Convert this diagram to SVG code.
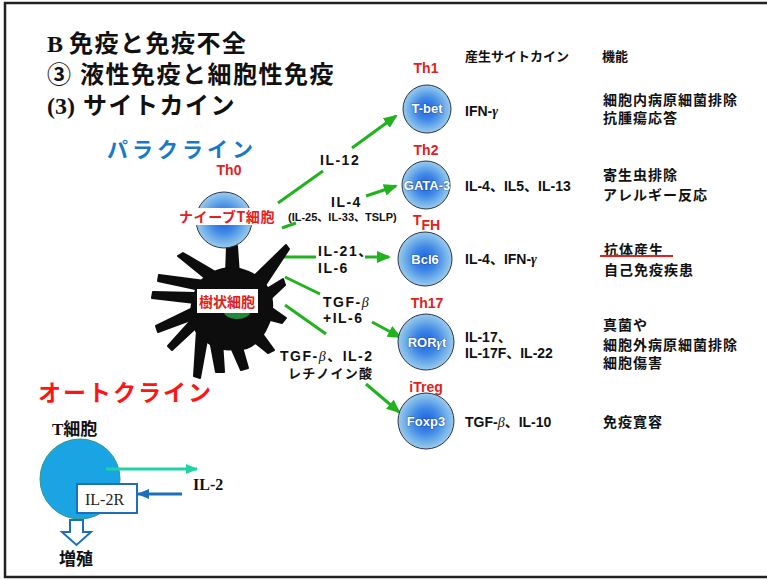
<svg xmlns="http://www.w3.org/2000/svg" width="767" height="580" viewBox="0 0 767 580">
  <defs>
    <style>
      .sans { font-family: "Liberation Sans", "Noto Sans CJK JP", sans-serif; font-weight: bold; }
      .jp { font-family: "Noto Sans CJK JP", "Liberation Sans", sans-serif; font-weight: bold; }
      .serif { font-family: "Liberation Serif", "Noto Sans CJK JP", serif; font-weight: bold; }
      .title { font-size: 24px; fill: #111; }
      .lbl { font-size: 14px; fill: #111; letter-spacing: 1.5px; }
      .cyt { font-size: 14px; fill: #111; }
      .fn { font-size: 14px; fill: #111; letter-spacing: 1px; }
      .th { font-size: 14px; fill: #e3201c; text-anchor: middle; }
      .cell { fill: url(#cellGrad); stroke: #2a3444; stroke-width: 1; }
      .ctext { font-size: 13px; fill: #fff; text-anchor: middle; stroke: #1b3f8a; stroke-width: 1.2px; stroke-opacity: 0.55; paint-order: stroke; }
      .flow { stroke: #22b21e; stroke-width: 3; fill: none; }
      .arm { fill: #0d0d0d; stroke: #0d0d0d; stroke-width: 2; stroke-linejoin: round; }
    </style>
    <radialGradient id="cellGrad" cx="0.5" cy="0.5" r="0.5">
      <stop offset="0" stop-color="#1f5ee0"/>
      <stop offset="0.45" stop-color="#3f88e6"/>
      <stop offset="0.8" stop-color="#78b5ea"/>
      <stop offset="1" stop-color="#9ccaee"/>
    </radialGradient>
    <marker id="greenHead" viewBox="0 0 14 12" refX="12" refY="6" markerWidth="14" markerHeight="12" orient="auto" markerUnits="userSpaceOnUse">
      <path d="M0,0 L14,6 L0,12 z" fill="#22b21e"/>
    </marker>
    <marker id="tealHead" viewBox="0 0 12 10" refX="11" refY="5" markerWidth="12" markerHeight="10" orient="auto" markerUnits="userSpaceOnUse">
      <path d="M0,0 L12,5 L0,10 z" fill="#1fd3a4"/>
    </marker>
    <marker id="blueHead" viewBox="0 0 12 10" refX="11" refY="5" markerWidth="12" markerHeight="10" orient="auto" markerUnits="userSpaceOnUse">
      <path d="M0,0 L12,5 L0,10 z" fill="#1e6fba"/>
    </marker>
  </defs>

  <rect x="0" y="0" width="767" height="580" fill="#fff"/>
  <rect x="5" y="3" width="775" height="574" fill="none" stroke="#222" stroke-width="2.5"/>

  <!-- heading -->
  <g id="heading">
    <text x="47" y="52" class="title"><tspan class="serif">B</tspan><tspan class="jp" dx="6" letter-spacing="1.5">免疫と免疫不全</tspan></text>
    <text x="47" y="83" class="title"><tspan class="jp">③</tspan><tspan class="jp" dx="9" letter-spacing="1.5">液性免疫と細胞性免疫</tspan></text>
    <text x="47" y="114" class="title"><tspan class="serif">(3)</tspan><tspan class="jp" dx="8" letter-spacing="1.5">サイトカイン</tspan></text>
  </g>

  <text x="107" y="157" class="jp" font-size="21" fill="#1a78c8" letter-spacing="4">パラクライン</text>

  <!-- column headers -->
  <text x="465" y="61" class="jp" font-size="13" fill="#111">産生サイトカイン</text>
  <text x="602" y="61" class="jp" font-size="13" fill="#111">機能</text>

  <!-- connectors -->
  <g id="connectors">
    <line class="flow" x1="278" y1="203" x2="323" y2="171"/>
    <line class="flow" x1="352" y1="148" x2="396" y2="116" marker-end="url(#greenHead)"/>
    <line class="flow" x1="282" y1="228" x2="296" y2="223"/>
    <line class="flow" x1="366" y1="196" x2="396" y2="186" marker-end="url(#greenHead)"/>
    <line class="flow" x1="283" y1="257" x2="316" y2="257"/>
    <line class="flow" x1="365" y1="257" x2="389" y2="257" marker-end="url(#greenHead)"/>
    <line class="flow" x1="285" y1="277" x2="320" y2="294"/>
    <line class="flow" x1="372" y1="322" x2="400" y2="337" marker-end="url(#greenHead)"/>
    <line class="flow" x1="285" y1="305" x2="326" y2="334"/>
    <line class="flow" x1="366" y1="384" x2="399" y2="412" marker-end="url(#greenHead)"/>

    <text x="320" y="165" class="sans lbl" letter-spacing="2">IL-12</text>
    <text x="331" y="207" class="sans lbl">IL-4</text>
    <text x="288" y="221" class="sans" font-size="11" fill="#111">(IL-25、IL-33、TSLP)</text>
    <text x="318" y="256" class="sans lbl">IL-21、</text>
    <text x="318" y="273" class="sans lbl">IL-6</text>
    <text x="323" y="307" class="sans lbl">TGF-<tspan font-style="italic" font-weight="normal" font-family="Liberation Serif">β</tspan></text>
    <text x="323" y="323" class="sans lbl">+IL-6</text>
    <text x="280" y="361" class="sans lbl">TGF-<tspan font-style="italic" font-weight="normal" font-family="Liberation Serif">β</tspan>、IL-2</text>
    <text x="288" y="378" class="jp" font-size="13" fill="#111" letter-spacing="1.3">レチノイン酸</text>
  </g>

  <!-- dendritic cell: irregular body with radiating processes -->
  <g id="dendritic-cell">
    <path fill="#0d0d0d" d="M212,272 Q226,265 240,268 Q255,272 262,280 Q273,290 273,302 Q274,315 269,325 Q264,337 257,343 Q247,352 235,350 Q220,352 210,345 Q197,338 193,327 Q188,313 192,300 Q194,289 200,281 Q205,275 212,272 Z"/>
    <path class="arm" d="M226,275 L227,246 L237,246 L239,275 Z"/>
    <path class="arm" d="M250,280 L286,245 L289,249 L262,290 Z"/>
    <path class="arm" d="M265,290 L283,279 L285,285 L268,301 Z"/>
    <path class="arm" d="M266,304 L286,318 L282,323 L263,318 Z"/>
    <path class="arm" d="M258,328 L274,350 L268,353 L248,337 Z"/>
    <path class="arm" d="M240,340 L248,368 L241,370 L230,345 Z"/>
    <path class="arm" d="M222,340 L224,372 L216,372 L210,340 Z"/>
    <path class="arm" d="M208,334 L200,378 L194,376 L197,330 Z"/>
    <path class="arm" d="M200,324 L172,350 L168,346 L195,316 Z"/>
    <path class="arm" d="M196,318 L158,332 L156,326 L193,308 Z"/>
    <path class="arm" d="M195,303 L152,298 L153,292 L196,293 Z"/>
    <path class="arm" d="M200,290 L158,281 L159,275 L205,281 Z"/>
    <path class="arm" d="M210,282 L178,256 L183,253 L219,274 Z"/>
    <ellipse cx="237" cy="312" rx="13" ry="7" fill="#1f8a3c"/>
    <rect x="197" y="289" width="61" height="24" fill="#fff"/>
    <text x="227" y="307" class="jp" font-size="14" fill="#e3201c" text-anchor="middle">樹状細胞</text>
  </g>

  <!-- naive T cell -->
  <g id="th0">
    <text x="229" y="175" class="sans th">Th0</text>
    <circle cx="224" cy="220" r="28" class="cell"/>
    <rect x="176" y="208" width="103" height="17" fill="#fff"/>
    <text x="227" y="222" class="jp" font-size="14" fill="#e3201c" text-anchor="middle" letter-spacing="0.6">ナイーブT細胞</text>
  </g>

  <!-- effector subsets -->
  <g id="th1">
    <text x="426" y="73" class="sans th">Th1</text>
    <circle cx="427" cy="109" r="24" class="cell"/>
    <text x="427" y="113" class="sans ctext">T-bet</text>
    <text x="465" y="116" class="sans cyt">IFN-<tspan font-style="italic" font-family="Liberation Serif">γ</tspan></text>
    <text x="603" y="105" class="jp fn">細胞内病原細菌排除</text>
    <text x="603" y="123" class="jp fn">抗腫瘍応答</text>
  </g>

  <g id="th2">
    <text x="426" y="155" class="sans th">Th2</text>
    <circle cx="426" cy="185" r="24" class="cell"/>
    <text x="427" y="190" class="sans ctext" font-size="12">GATA-3</text>
    <text x="465" y="191" class="sans cyt">IL-4、IL5、IL-13</text>
    <text x="603" y="180" class="jp fn">寄生虫排除</text>
    <text x="603" y="200" class="jp fn">アレルギー反応</text>
  </g>

  <g id="tfh">
    <text x="413" y="225" class="sans" font-size="14" fill="#e3201c">T<tspan dy="5">FH</tspan></text>
    <circle cx="425" cy="259" r="27" class="cell"/>
    <text x="425" y="264" class="sans ctext">Bcl6</text>
    <text x="465" y="264" class="sans cyt">IL-4、IFN-<tspan font-style="italic" font-family="Liberation Serif">γ</tspan></text>
    <text x="604" y="255" class="jp fn">抗体産生</text>
    <line x1="600" y1="256" x2="673" y2="256" stroke="#e3201c" stroke-width="2"/>
    <text x="604" y="275" class="jp fn">自己免疫疾患</text>
  </g>

  <g id="th17">
    <text x="427" y="308" class="sans th">Th17</text>
    <circle cx="426" cy="342" r="28" class="cell"/>
    <text x="427" y="347" class="sans ctext">ROR<tspan font-style="italic" font-family="Liberation Serif">γ</tspan>t</text>
    <text x="465" y="342" class="sans cyt">IL-17、</text>
    <text x="465" y="358" class="sans cyt">IL-17F、IL-22</text>
    <text x="603" y="330" class="jp fn">真菌や</text>
    <text x="603" y="350" class="jp fn">細胞外病原細菌排除</text>
    <text x="603" y="368" class="jp fn">細胞傷害</text>
  </g>

  <g id="itreg">
    <text x="426" y="392" class="sans th">iTreg</text>
    <circle cx="426" cy="421" r="28" class="cell"/>
    <text x="426" y="426" class="sans ctext">Foxp3</text>
    <text x="465" y="427" class="sans cyt">TGF-<tspan font-style="italic" font-weight="normal" font-family="Liberation Serif">β</tspan>、IL-10</text>
    <text x="603" y="427" class="jp fn">免疫寛容</text>
  </g>

  <!-- autocrine -->
  <g id="autocrine">
    <text x="38" y="401" class="jp" font-size="23" fill="#ff1414" letter-spacing="2">オートクライン</text>
    <text x="52" y="435" font-size="17" fill="#111"><tspan class="serif">T</tspan><tspan class="jp">細胞</tspan></text>
    <circle cx="80" cy="479" r="40" fill="#1aa4e4" stroke="#2a9a80" stroke-width="1"/>
    <line x1="106" y1="469" x2="197" y2="469" stroke="#1fd3a4" stroke-width="3" marker-end="url(#tealHead)"/>
    <text x="193" y="490" class="serif" font-size="16" fill="#111">IL-2</text>
    <line x1="182" y1="494" x2="138" y2="494" stroke="#1e6fba" stroke-width="3" marker-end="url(#blueHead)"/>
    <rect x="77" y="484" width="60" height="29" fill="#fff" stroke="#1e6fba" stroke-width="2"/>
    <text x="85" y="505" font-family="Liberation Serif" font-size="16" fill="#222">IL-2R</text>
    <path d="M70,520 L83,520 L83,532 L91,532 L76.5,545 L62,532 L70,532 Z" fill="#fff" stroke="#1e6fba" stroke-width="2" stroke-linejoin="miter"/>
    <text x="59" y="565" class="jp" font-size="17" fill="#111">増殖</text>
  </g>
</svg>
